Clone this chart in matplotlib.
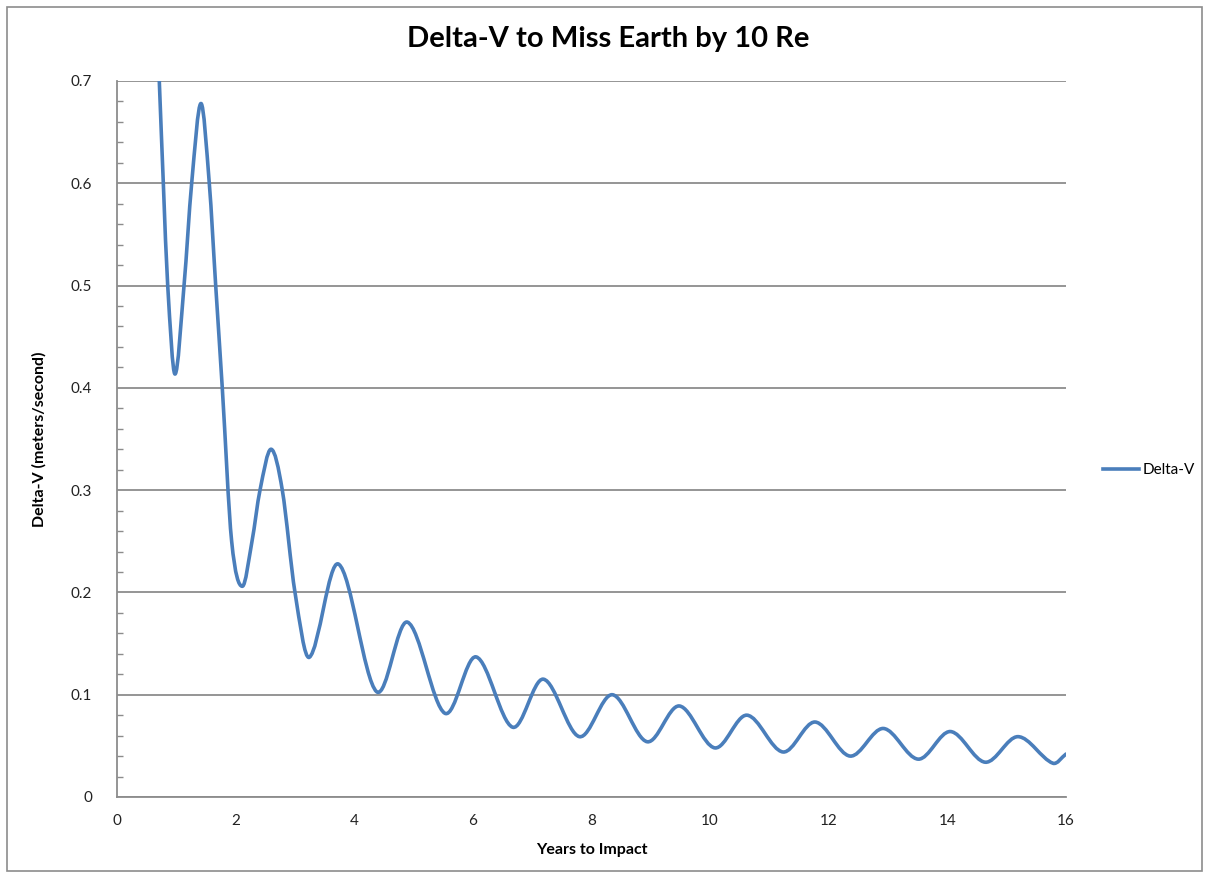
import numpy as np
import matplotlib.pyplot as plt
from matplotlib.path import Path
from matplotlib.patches import PathPatch, Rectangle
from matplotlib.lines import Line2D

# values (years to impact, delta-v in m/s)
years = [0.645, 0.713, 0.781, 0.855, 0.978, 1.130, 1.259, 1.416, 1.556, 1.664,
         1.775, 1.933, 2.113, 2.276, 2.411, 2.597, 2.787, 3.001,
         3.243, 3.732, 4.378, 4.895, 5.530, 6.053, 6.671, 7.188, 7.795, 8.35,
         8.94, 9.48, 10.08, 10.62, 11.23, 11.77, 12.36, 12.92, 13.51, 14.05,
         14.64, 15.19, 15.78, 16.0]
delta_v = [0.80, 0.70, 0.60, 0.50, 0.4135, 0.50, 0.60, 0.678, 0.60, 0.50,
           0.40, 0.25, 0.206, 0.25, 0.30, 0.340, 0.30, 0.20,
           0.1366, 0.2278, 0.1029, 0.171, 0.0818, 0.137, 0.0682, 0.1152, 0.059, 0.100,
           0.054, 0.089, 0.048, 0.080, 0.044, 0.0733, 0.040, 0.067, 0.037, 0.064,
           0.034, 0.059, 0.033, 0.042]

title = "Delta-V to Miss Earth by 10 Re"
series_name = "Delta-V"
line_color = "#4A7EBB"
grid_color = "#8C8C8C"

plt.rcParams['font.family'] = ['Lato', 'DejaVu Sans']

fig = plt.figure(figsize=(12.09, 8.77), dpi=100)
ax = fig.add_axes([117 / 1209, 80 / 877, (1066 - 117) / 1209, (797 - 81) / 877])

# smoothed line like Excel: each segment drawn as a cubic Bezier curve
x = np.array(years)
y = np.array(delta_v)
slope = np.empty_like(y)
slope[1:-1] = (y[2:] - y[:-2]) / (x[2:] - x[:-2])
slope[0] = (y[1] - y[0]) / (x[1] - x[0])
slope[-1] = (y[-1] - y[-2]) / (x[-1] - x[-2])
verts = [(x[0], y[0])]
codes = [Path.MOVETO]
for i in range(len(x) - 1):
    h = (x[i + 1] - x[i]) / 3.0
    verts += [(x[i] + h, y[i] + slope[i] * h),
              (x[i + 1] - h, y[i + 1] - slope[i + 1] * h),
              (x[i + 1], y[i + 1])]
    codes += [Path.CURVE4] * 3
patch = PathPatch(Path(verts, codes), facecolor='none', edgecolor=line_color,
                  lw=2.6, capstyle='round', joinstyle='round', zorder=3)
ax.add_patch(patch)

ax.set_xlim(0, 16)
ax.set_ylim(0, 0.7)
ax.set_xticks(np.arange(0, 17, 2))
ax.set_yticks(np.arange(0, 0.71, 0.1))
ax.set_yticklabels(["0", "0.1", "0.2", "0.3", "0.4", "0.5", "0.6", "0.7"])
ax.set_yticks(np.arange(0, 0.7, 0.02), minor=True)
ax.yaxis.grid(True, color=grid_color, lw=1.3)
ax.set_axisbelow(True)
for s in ['top', 'right']:
    ax.spines[s].set_visible(False)
for s in ['left', 'bottom']:
    ax.spines[s].set_color(grid_color)
    ax.spines[s].set_linewidth(1.3)
ax.tick_params(axis='x', length=0, pad=12, labelsize=11, colors='#222222')
ax.tick_params(axis='y', which='major', length=0, pad=18, labelsize=11, colors='#222222')
ax.tick_params(axis='y', which='minor', direction='in', length=4, color=grid_color, width=1)

ax.set_xlabel("Years to Impact", fontsize=11.5, fontweight='bold', labelpad=11)
ax.set_ylabel("Delta-V (meters/second)", fontsize=11.5, fontweight='bold', labelpad=17)
fig.text(0.503, 0.955, title, ha='center', va='center', fontsize=21, fontweight='bold')

handle = Line2D([], [], color=line_color, lw=2.6)
fig.legend([handle], [series_name], loc='center left', bbox_to_anchor=(1089 / 1209, 1 - 470 / 877),
           frameon=False, fontsize=11, handlelength=2.4, handletextpad=0.2)

fig.patches.append(Rectangle((7 / 1209, 6 / 877), 1195 / 1209, 864 / 877, transform=fig.transFigure,
                             fill=False, edgecolor='#8C8C8C', lw=1.2))

fig.savefig("out.png", dpi=100)
